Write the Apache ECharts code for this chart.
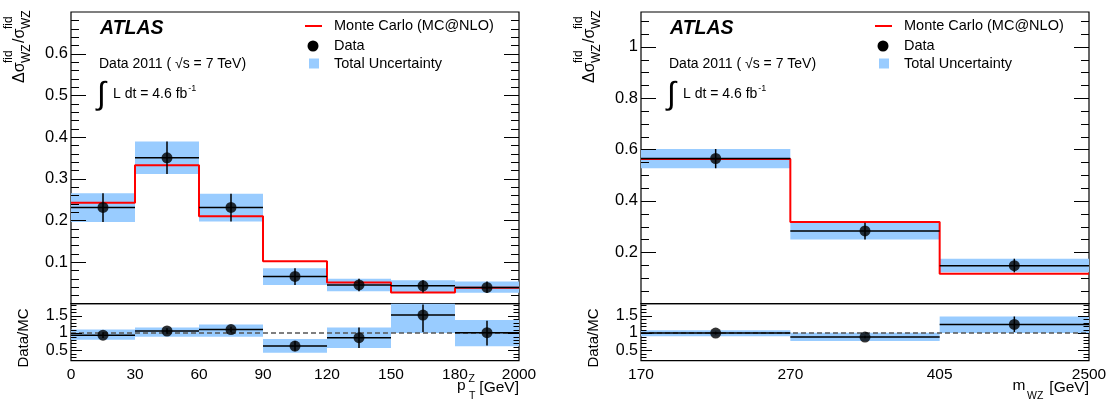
<!DOCTYPE html>
<html><head><meta charset="utf-8">
<script src="https://cdn.jsdelivr.net/npm/echarts@6/dist/echarts.min.js"></script>
<style>html,body{margin:0;padding:0;background:#fff}#c{width:1110px;height:401px;background:#fff}
#err{position:absolute;left:300px;top:150px;color:#c00;font:12px monospace;white-space:pre}</style>
</head><body><div id="c"></div><div id="err"></div>
<script>
window.onerror = function (m, s, l, c) { document.getElementById('err').textContent += m + ' @' + l + ':' + c + '\n'; };
</script>
<script>
// ---------- data: left panel (pT of Z) ----------
const ptLabels = ['0','30','60','90','120','150','180','2000'];
const ptData   = [0.231, 0.350, 0.231, 0.0655, 0.045, 0.043, 0.039];
const ptUncLo  = [0.196, 0.311, 0.197, 0.045, 0.030, 0.027, 0.026];
const ptUncHi  = [0.265, 0.389, 0.264, 0.085, 0.060, 0.056, 0.0535];
const ptMC     = [0.242, 0.332, 0.210, 0.102, 0.051, 0.027, 0.0385];
const ptRatio       = [0.94, 1.06, 1.10, 0.625, 0.867, 1.52, 1.01];
const ptRatioErrLo  = [0.86, 0.98, 1.02, 0.47, 0.57, 1.03, 0.64];
const ptRatioErrHi  = [1.02, 1.14, 1.18, 0.77, 1.16, 1.83, 1.36];
const ptRatioBandLo = [0.81, 0.89, 0.89, 0.43, 0.57, 1.00, 0.615];
const ptRatioBandHi = [1.10, 1.16, 1.25, 0.83, 1.16, 2.00, 1.375];

// ---------- data: right panel (m_WZ) ----------
const mwzLabels = ['170','270','405','2500'];
const mwzData   = [0.565, 0.283, 0.148];
const mwzUncLo  = [0.527, 0.250, 0.122];
const mwzUncHi  = [0.602, 0.315, 0.175];
const mwzMC     = [0.563, 0.318, 0.117];
const mwzRatio       = [1.00, 0.885, 1.25];
const mwzRatioErrLo  = [0.96, 0.85, 1.03];
const mwzRatioErrHi  = [1.04, 0.92, 1.48];
const mwzRatioBandLo = [0.91, 0.77, 1.00];
const mwzRatioBandHi = [1.08, 1.01, 1.48];

// ---------- axis tick values ----------
const ptMainTicks  = [0.1, 0.2, 0.3, 0.4, 0.5, 0.6];
const mwzMainTicks = [0.2, 0.4, 0.6, 0.8, 1];
const ratioTicks   = [0.5, 1, 1.5];
const ptMinorStep = 0.02, mwzMinorStep = 0.05, ratioMinorStep = 0.1;
const ratioRef = 1;

const FONT = '"Liberation Sans", Arial, Helvetica, sans-serif';
const BAND = '#99ccff';
const RED = '#ff0000';

const chart = echarts.init(document.getElementById('c'), null, {renderer: 'canvas'});

const gridDefs = [
  {left: 71,  top: 12,    width: 448, height: 291.7},
  {left: 71,  top: 303.7, width: 448, height: 57},
  {left: 641, top: 12,    width: 448, height: 291.7},
  {left: 641, top: 303.7, width: 448, height: 57}
].map(g => Object.assign({show: true, borderColor: '#000', borderWidth: 1.2}, g));

function yAxisFor(gi, min, max, majorVals, fs) {
  return {type: 'value', gridIndex: gi, min: min, max: max, position: 'left',
    splitLine: {show: false}, axisLine: {show: false, onZero: false},
    axisTick: {show: false},
    axisLabel: {show: true, customValues: majorVals, color: '#000', fontSize: fs, fontFamily: FONT, margin: 3}};
}

function xAxisFor(gi, n, labels, showLabels) {
  return {type: 'value', gridIndex: gi, min: 0, max: n, interval: 1,
    splitLine: {show: false}, axisLine: {show: false, onZero: false}, axisTick: {show: false},
    axisLabel: {show: showLabels, color: '#000', fontSize: 15.5, fontFamily: FONT, margin: 6,
      formatter: v => labels[Math.round(v)]}};
}

const nPt = ptData.length, nM = mwzData.length;
const xAxis = [
  xAxisFor(0, nPt, ptLabels, false),
  xAxisFor(1, nPt, ptLabels, true),
  xAxisFor(2, nM, mwzLabels, false),
  xAxisFor(3, nM, mwzLabels, true)
];
const yRanges = [[0, 0.7], [0.2, 1.85], [0, 1.135], [0.2, 1.85]];
const yAxis = [
  yAxisFor(0, yRanges[0][0], yRanges[0][1], ptMainTicks, 16.5),
  yAxisFor(1, yRanges[1][0], yRanges[1][1], ratioTicks, 16),
  yAxisFor(2, yRanges[2][0], yRanges[2][1], mwzMainTicks, 16.5),
  yAxisFor(3, yRanges[3][0], yRanges[3][1], ratioTicks, 16)
];

function clipR(params, r) {
  const cs = params.coordSys;
  return echarts.graphic.clipRectByRect(r, {x: cs.x, y: cs.y, width: cs.width, height: cs.height});
}

function bandSeries(gi, lo, hi) {
  return {type: 'custom', xAxisIndex: gi, yAxisIndex: gi, z: 1, silent: true,
    data: lo.map((l, i) => [i, l, hi[i]]),
    renderItem: (params, api) => {
      const i = api.value(0);
      const p1 = api.coord([i, api.value(2)]);
      const p2 = api.coord([i + 1, api.value(1)]);
      const r = clipR(params, {x: p1[0], y: p1[1], width: p2[0] - p1[0], height: p2[1] - p1[1]});
      return r ? {type: 'rect', shape: r, style: {fill: BAND}} : null;
    }};
}

function errSeries(gi, vals, lo, hi) {
  return {type: 'custom', xAxisIndex: gi, yAxisIndex: gi, z: 3, silent: true,
    data: vals.map((v, i) => [i, v, lo[i], hi[i]]),
    renderItem: (params, api) => {
      const i = api.value(0);
      const a = api.coord([i, api.value(1)]);
      const b = api.coord([i + 1, api.value(1)]);
      const c = api.coord([i + 0.5, api.value(2)]);
      const d = api.coord([i + 0.5, api.value(3)]);
      const cs = params.coordSys;
      const top = Math.max(cs.y, d[1]);
      const bot = Math.min(cs.y + cs.height, c[1]);
      return {type: 'group', children: [
        {type: 'line', shape: {x1: a[0], y1: a[1], x2: b[0], y2: b[1]}, style: {stroke: '#000', lineWidth: 1.5}},
        {type: 'line', shape: {x1: c[0], y1: bot, x2: d[0], y2: top}, style: {stroke: '#000', lineWidth: 1.5}}
      ]};
    }};
}

function stepSeries(gi, mc) {
  const pts = [];
  mc.forEach((m, i) => { pts.push([i, m]); pts.push([i + 1, m]); });
  return {type: 'line', xAxisIndex: gi, yAxisIndex: gi, z: 2, silent: true,
    data: pts, symbol: 'none', showSymbol: false,
    lineStyle: {color: RED, width: 2}};
}

function refSeries(gi, n) {
  return {type: 'line', xAxisIndex: gi, yAxisIndex: gi, z: 2, silent: true,
    data: [[0, ratioRef], [n, ratioRef]], symbol: 'none', showSymbol: false,
    lineStyle: {color: '#555', width: 1.5, type: [5, 3]}};
}

function dotSeries(gi, vals) {
  return {type: 'scatter', xAxisIndex: gi, yAxisIndex: gi, z: 4, silent: true,
    data: vals.map((v, i) => [i + 0.5, v]), symbol: 'circle', symbolSize: 11,
    itemStyle: {color: '#000'}};
}

const series = [
  bandSeries(0, ptUncLo, ptUncHi), stepSeries(0, ptMC), errSeries(0, ptData, ptUncLo, ptUncHi), dotSeries(0, ptData),
  bandSeries(1, ptRatioBandLo, ptRatioBandHi), refSeries(1, nPt), errSeries(1, ptRatio, ptRatioErrLo, ptRatioErrHi), dotSeries(1, ptRatio),
  bandSeries(2, mwzUncLo, mwzUncHi), stepSeries(2, mwzMC), errSeries(2, mwzData, mwzUncLo, mwzUncHi), dotSeries(2, mwzData),
  bandSeries(3, mwzRatioBandLo, mwzRatioBandHi), refSeries(3, nM), errSeries(3, mwzRatio, mwzRatioErrLo, mwzRatioErrHi), dotSeries(3, mwzRatio)
];

chart.setOption({
  animation: false,
  grid: gridDefs,
  xAxis: xAxis,
  yAxis: yAxis,
  series: series
});

// ---------- text / annotations ----------
const measCtx = document.createElement('canvas').getContext('2d');
function fontStr(size, opts) {
  opts = opts || {};
  return (opts.style || 'normal') + ' ' + (opts.weight || 'normal') + ' ' + size + 'px ' + FONT;
}
function textW(text, size, opts) { measCtx.font = fontStr(size, opts); return measCtx.measureText(text).width; }

function txt(x, y, text, size, opts) {
  opts = opts || {};
  return {type: 'text', x: x, y: y, rotation: opts.rot || 0, silent: true, z: 10,
    style: {text: text, fill: '#000', font: fontStr(size, opts),
      align: opts.align || 'left', textAlign: opts.align || 'left',
      verticalAlign: 'middle', textVerticalAlign: 'middle'}};
}

function panelGraphics(F, R, xTitle) {
  const rot = {rot: Math.PI / 2};
  const lumi = 'L dt = 4.6 fb';
  const els = [
    txt(F - 51, 83, 'Δσ', 16, rot),
    txt(F - 62, 63, 'fid', 12, rot),
    txt(F - 44, 63, 'WZ', 12, rot),
    txt(F - 51, 43, '/σ', 16, rot),
    txt(F - 62, 29, 'fid', 12, rot),
    txt(F - 44, 29, 'WZ', 12, rot),
    txt(F - 47, 338, 'Data/MC', 15, {rot: Math.PI / 2, align: 'center'}),
    txt(F + 29, 29, 'ATLAS', 19.5, {style: 'italic', weight: 'bold'}),
    txt(F + 28, 64, 'Data 2011 ( √s = 7 TeV)', 14),
    txt(F + 26, 95, '∫', 32),
    txt(F + 42, 94, lumi, 14),
    txt(F + 42 + textW(lumi, 14) + 1, 89, '-1', 9),
    {type: 'line', silent: true, z: 10, shape: {x1: R - 214, y1: 26, x2: R - 197, y2: 26}, style: {stroke: RED, lineWidth: 2}},
    {type: 'circle', silent: true, z: 10, shape: {cx: R - 206, cy: 46, r: 5.5}, style: {fill: '#000'}},
    {type: 'rect', silent: true, z: 10, shape: {x: R - 210, y: 58.5, width: 10, height: 10}, style: {fill: BAND}},
    txt(R - 185, 26, 'Monte Carlo (MC@NLO)', 14.5),
    txt(R - 185, 46, 'Data', 14.5),
    txt(R - 185, 63.5, 'Total Uncertainty', 14.5)
  ];
  return els.concat(xTitle);
}

// ---------- inside tick marks on both frame edges, placed through the axis scales ----------
function tickValues(min, max, step) {
  const out = [];
  for (let k = Math.ceil(min / step - 1e-9); k * step <= max + 1e-9; k++) out.push(+(k * step).toFixed(6));
  return out;
}
function tickGraphics(gi, n, majors, minorStep, majLen, minLen) {
  const els = [];
  const xl = chart.convertToPixel({xAxisIndex: gi}, 0);
  const xr = chart.convertToPixel({xAxisIndex: gi}, n);
  const yTop = chart.convertToPixel({yAxisIndex: gi}, yRanges[gi][1]);
  const yBot = chart.convertToPixel({yAxisIndex: gi}, yRanges[gi][0]);
  const add = (v, len) => {
    const y = Math.round(chart.convertToPixel({yAxisIndex: gi}, v)) + 0.5;
    if (!(y > yTop + 1 && y < yBot - 1)) return;
    els.push({type: 'line', silent: true, z: 20, shape: {x1: xl, y1: y, x2: xl + len, y2: y}, style: {stroke: '#000', lineWidth: 1}});
    els.push({type: 'line', silent: true, z: 20, shape: {x1: xr - len, y1: y, x2: xr, y2: y}, style: {stroke: '#000', lineWidth: 1}});
  };
  tickValues(yRanges[gi][0], yRanges[gi][1], minorStep).forEach(v => add(v, minLen));
  majors.forEach(v => add(v, majLen));
  return els;
}

const graphics = [].concat(
  panelGraphics(71, 519, [
    txt(457, 386, 'p', 15.5),
    txt(468.5, 379, 'Z', 10.5),
    txt(469, 396, 'T', 10.5),
    txt(519, 388, '[GeV]', 15.5, {align: 'right'})
  ]),
  panelGraphics(641, 1089, [
    txt(1012.5, 386, 'm', 15.5),
    txt(1027, 396, 'WZ', 10.5),
    txt(1089, 388, '[GeV]', 15.5, {align: 'right'})
  ]),
  tickGraphics(0, nPt, ptMainTicks, ptMinorStep, 15, 8),
  tickGraphics(1, nPt, ratioTicks, ratioMinorStep, 11, 5.5),
  tickGraphics(2, nM, mwzMainTicks, mwzMinorStep, 15, 8),
  tickGraphics(3, nM, ratioTicks, ratioMinorStep, 11, 5.5)
);

chart.setOption({graphic: {elements: graphics}});
</script>
</body></html>
